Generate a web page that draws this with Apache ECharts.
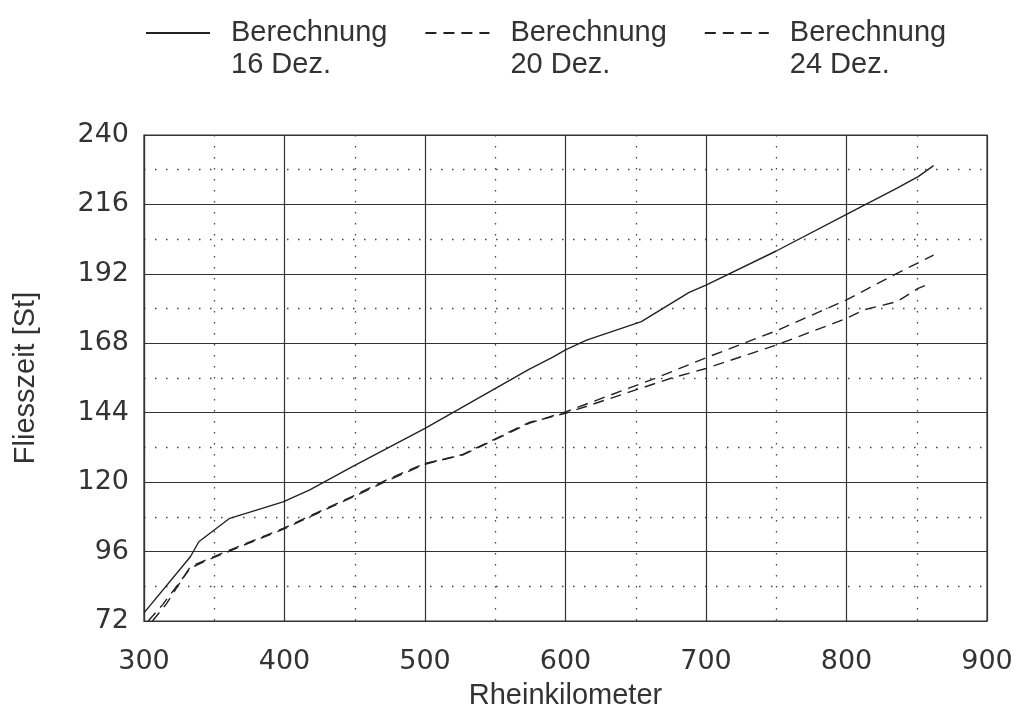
<!DOCTYPE html>
<html>
<head>
<meta charset="utf-8">
<script src="https://cdn.jsdelivr.net/npm/echarts@6/dist/echarts.min.js"></script>
<style>
html,body{margin:0;padding:0;background:#fff;}
#chart{width:1018px;height:721px;}
</style>
</head>
<body>
<div id="chart"></div>
<script>
// Series names (legend)
const seriesNames = ['Berechnung\n16 Dez.', 'Berechnung\n20 Dez.', 'Berechnung\n24 Dez.'];

// Berechnung 16 Dez. (solid)
const km16  = [300, 333, 339, 361, 399, 418, 448, 500, 574, 591, 600, 615, 654, 688, 700, 750, 800, 836, 851, 862];
const val16 = [74.8, 94.2, 99.4, 107.5, 113.2, 117.3, 125.3, 138.6, 159.0, 163.2, 165.7, 169.1, 175.5, 185.6, 188.1, 199.9, 212.6, 221.6, 225.6, 229.4];

// Berechnung 20 Dez. (dashed, upper at the end)
const km20  = [306, 316, 333, 344, 361, 399, 422, 448, 475, 500, 527, 574, 600, 665, 700, 750, 800, 836, 862];
const val20 = [72.0, 78.0, 90.8, 93.1, 96.5, 104.0, 109.2, 115.0, 121.3, 126.5, 129.4, 140.3, 144.3, 156.1, 163.0, 172.3, 183.0, 192.2, 198.5];

// Berechnung 24 Dez. (dashed, lower at the end)
const km24  = [303, 313, 333, 344, 361, 399, 422, 448, 475, 500, 527, 574, 600, 675, 700, 750, 800, 812, 826, 836, 851, 860];
const val24 = [72.0, 77.5, 90.3, 92.8, 96.2, 103.7, 108.9, 114.7, 120.9, 126.2, 129.6, 140.6, 143.8, 155.9, 159.3, 167.4, 176.6, 179.5, 181.2, 182.4, 187.0, 188.7];

// Axis ticks
const xMin = 300, xMax = 900, xStep = 100;
const yMin = 72, yMax = 240, yStep = 24;
const xTitle = 'Rheinkilometer';
const yTitle = 'Fliesszeit [St]';

const pairs = (xs, ys) => xs.map((x, i) => [x, ys[i]]);

const ink = '#222';
const tickFont = { fontFamily: 'DejaVu Sans', fontSize: 27, color: '#333' };

const chart = echarts.init(document.getElementById('chart'), null, { renderer: 'canvas' });
chart.setOption({
  animation: false,
  backgroundColor: '#fff',
  grid: { left: 144, right: 31, top: 135, bottom: 100, show: true, borderColor: '#333', borderWidth: 1.2, backgroundColor: 'transparent' },
  legend: {
    left: 145, top: -15, padding: 0,
    itemWidth: 64, itemHeight: 14, itemGap: 37,
    data: seriesNames,
    formatter: name => '\n' + name,
    itemStyle: { color: 'rgba(0,0,0,0)', borderColor: 'rgba(0,0,0,0)', borderWidth: 0, opacity: 0 },
    textStyle: { fontFamily: 'Liberation Sans', fontSize: 29, color: '#333', lineHeight: 32, padding: [0, 0, 0, 16] }
  },
  xAxis: {
    type: 'value', min: xMin, max: xMax, interval: xStep,
    name: xTitle, nameLocation: 'middle', nameGap: 60,
    nameTextStyle: { fontFamily: 'Liberation Sans', fontSize: 29, color: '#333' },
    axisLine: { show: true, lineStyle: { color: '#333', width: 1.2 } },
    axisTick: { show: false },
    axisLabel: Object.assign({ margin: 27 }, tickFont),
    splitLine: { show: true, lineStyle: { color: '#333', width: 1.2 } },
    minorTick: { show: false, splitNumber: 2 },
    minorSplitLine: { show: true, lineStyle: { color: '#444', width: 1.3, type: [1.5, 9.5] } }
  },
  yAxis: {
    type: 'value', min: yMin, max: yMax, interval: yStep,
    name: yTitle, nameLocation: 'middle', nameGap: 104, nameRotate: 90,
    nameTextStyle: { fontFamily: 'Liberation Sans', fontSize: 29, color: '#333' },
    axisLine: { show: true, lineStyle: { color: '#333', width: 1.2 } },
    axisTick: { show: false },
    axisLabel: Object.assign({ margin: 15 }, tickFont),
    splitLine: { show: true, lineStyle: { color: '#333', width: 1.2 } },
    minorTick: { show: false, splitNumber: 2 },
    minorSplitLine: { show: true, lineStyle: { color: '#444', width: 1.3, type: [1.5, 9.5] } }
  },
  series: [
    { name: seriesNames[0], type: 'line', data: pairs(km16, val16), showSymbol: false, symbol: 'none',
      lineStyle: { color: ink, width: 1.4, type: 'solid' }, itemStyle: { color: ink } },
    { name: seriesNames[1], type: 'line', data: pairs(km20, val20), showSymbol: false, symbol: 'none',
      lineStyle: { color: ink, width: 1.4, type: [11, 7] }, itemStyle: { color: ink } },
    { name: seriesNames[2], type: 'line', data: pairs(km24, val24), showSymbol: false, symbol: 'none',
      lineStyle: { color: ink, width: 1.4, type: [11, 7] }, itemStyle: { color: ink } }
  ]
});
</script>
</body>
</html>
